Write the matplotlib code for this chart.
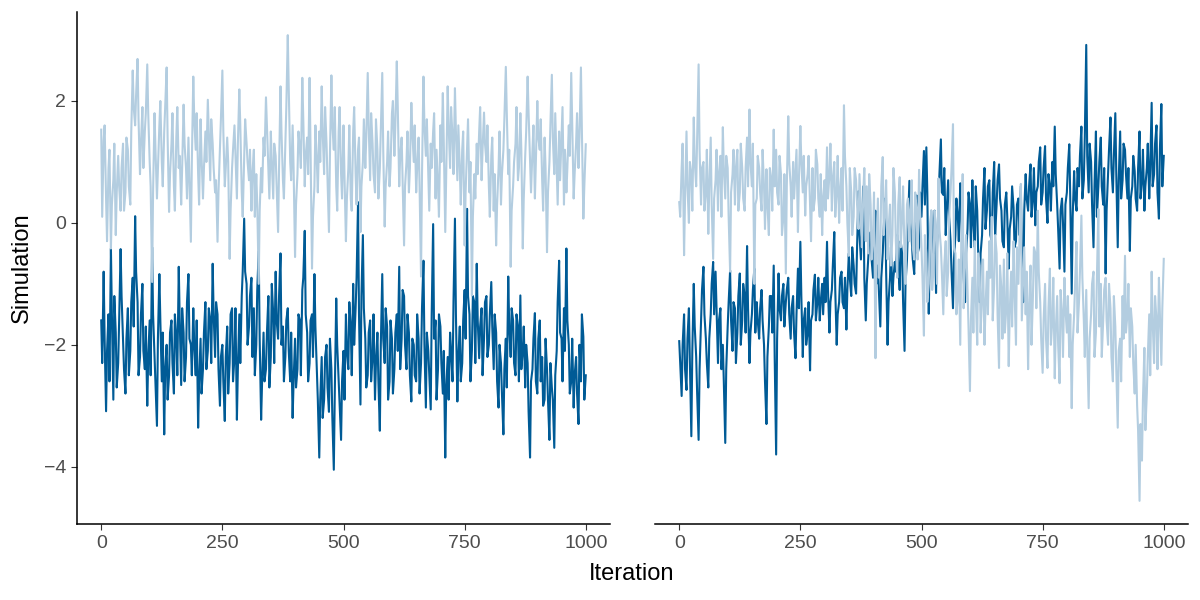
import matplotlib
matplotlib.use("Agg")
import matplotlib.pyplot as plt
import numpy as np

# iterations: main samples every 5 steps, plus in-between samples at 2, 7, 12, ...
iterations = list(range(0, 1001, 5))
iterations_mid = list(range(2, 1000, 5))

# left panel, light chain
left_light = [1.53, 1.35, 0.4, 0.9, -0.42, 0.7, -0.2, 1.1, 0.2, 1.3,
              0.5, 1.2, 0.3, 2.5, 1.6, 2.69, 0.8, 1.9, 1.5, 2.6,
              1.0, -0.97, 1.8, 0.4, 1.6, 1.0, 1.5, 2.55, 0.18, 1.3,
              0.6, 1.4, 0.9, 0.3, 1.94, 0.9, 1.4, -0.31, 2.4, 1.2,
              0.8, 1.7, 0.4, 1.5, 2.02, 0.7, 1.3, 0.5, -0.31, 1.2,
              2.5, 0.6, 1.4, -0.59, 0.9, 1.6, 0.4, 2.19, 0.5, 1.1,
              1.3, 0.7, 0.2, 1.2, 0.8, -1.0, 0.9, 1.4, 2.06, 0.9,
              1.5, 0.4, 1.1, -0.15, 2.24, 0.7, 1.3, 3.08, 1.0, 1.6,
              -0.56, 0.8, 1.2, 2.38, 0.6, 1.4, 2.38, -0.75, 0.6, 1.0,
              1.5, 2.24, 0.8, 1.3, -0.15, 2.42, 1.2, 0.6, 1.5, 0.8,
              1.6, -0.3, 0.9, 0.4, 1.5, 0.8, 1.2, -0.15, 1.0, 0.9,
              2.46, 0.7, 1.3, 0.5, 1.2, 0.9, 2.46, -0.06, 1.0, 0.6,
              1.8, 1.1, 2.65, 0.6, 1.4, -0.37, 1.0, 0.5, 1.97, 1.0,
              0.5, 1.4, -0.88, 2.4, 1.1, 0.8, 1.3, 1.5, 0.4, 0.6,
              1.6, 2.13, -0.15, 2.24, 0.9, 1.4, 2.21, 0.7, 0.9, 1.2,
              -0.37, 1.2, 0.5, -1.19, 0.8, 1.3, 1.5, 0.7, 1.81, 1.0,
              0.6, 1.1, 0.2, -0.37, 0.9, 0.3, 1.2, 2.56, 0.8, -0.72,
              0.6, 1.3, 0.7, 1.8, -0.42, 1.1, 2.4, 1.0, 1.2, 0.4,
              2.0, 1.2, 0.7, 1.4, -0.48, 1.0, 2.43, 0.8, 0.9, 1.5,
              1.4, 0.3, 0.5, 1.6, 2.46, 0.4, 1.3, 0.9, 2.55, 0.07,
              1.29]
left_light_mid = [0.1, 1.6, -0.3, 1.2, 0.3, 1.3, 0.5, 0.6, 0.9, 0.2,
                  1.4, 0.6, 1.5, 1.9, 2.1, 1.7, 1.3, 0.9, 1.8, 1.8,
                  0.6, 0.5, 1.2, 0.9, 2.0, 0.6, 1.9, 1.4, 0.8, 1.8,
                  0.2, 1.9, 1.1, 0.9, 1.3, 0.4, 0.7, 1.0, 1.7, 1.8,
                  0.3, 1.1, 0.9, 1.0, 1.5, 1.7, 0.9, 0.7, 0.5, 1.7,
                  1.5, 0.9, 1.0, 0.2, 1.2, 1.1, 1.3, 1.6, 0.1, 1.7,
                  1.0, 1.2, 0.8, 0.1, 0.3, 0.2, 0.5, 1.1, 1.6, 0.4,
                  1.0, 1.3, 0.6, 0.9, 1.5, 0.4, 1.9, 2.2, 0.7, 0.9,
                  0.3, 1.5, 0.9, 1.7, 1.1, 0.8, 1.2, 0.1, 1.6, 0.5,
                  1.0, 1.5, 1.9, 0.7, 1.1, 1.6, 1.9, 0.2, 1.9, 0.4,
                  0.8, 0.4, 1.6, 0.2, 1.9, 0.3, 1.4, 0.6, 1.7, 1.4,
                  1.6, 1.8, 0.8, 1.7, 0.4, 1.5, 1.2, 0.6, 1.5, 0.9,
                  2.0, 1.6, 1.9, 1.1, 0.7, 0.6, 1.5, 0.9, 1.5, 1.6,
                  0.9, 0.6, 0.8, 1.6, 1.7, 0.2, 0.9, 1.8, 1.2, 0.1,
                  1.0, 1.3, 0.8, 1.6, 1.9, 0.8, 1.5, 1.6, 0.3, 1.5,
                  0.5, 1.7, 1.0, 0.1, 0.4, 0.8, 1.9, 1.2, 1.3, 1.6,
                  0.1, 1.4, 0.8, 0.3, 1.5, 0.8, 1.7, 1.8, 1.2, 0.2,
                  1.0, 1.9, 0.9, 1.2, 0.4, 1.5, 1.8, 0.5, 1.6, 1.0,
                  1.4, 1.7, 0.2, 0.9, 0.5, 1.6, 1.4, 1.8, 0.3, 0.7,
                  1.9, 1.2, 0.9, 1.1, 1.6, 0.8, 1.8, 1.4, 1.5, 0.6]

# left panel, dark chain
left_dark = [-1.6, -0.8, -3.09, -1.5, -0.42, -2.9, -1.8, -2.3, -0.43, -1.9,
             -2.8, -1.4, -2.1, -0.9, 0.11, -1.3, -2.2, -1.0, -2.4, -3.0,
             -1.6, -0.4, -2.2, -3.33, -0.84, -2.6, -3.47, -2.0, -2.5, -1.6,
             -2.8, -1.9, -0.72, -2.66, -1.8, -2.2, -0.84, -2.0, -1.4, -2.5,
             -3.36, -1.9, -2.4, -1.3, -2.1, -1.6, -0.67, -2.2, -1.5, -3.0,
             -2.0, -3.25, -1.7, -2.3, -1.4, -2.2, -3.23, -1.5, -1.2, 0.07,
             -1.0, -1.7, -0.9, -1.4, -2.0, -0.46, -3.23, -1.8, -2.4, -1.2,
             -2.2, -1.5, -0.8, -1.9, -0.5, -1.7, -2.2, -1.4, -2.6, -3.2,
             -1.9, -2.4, -1.6, -1.1, -0.13, -1.8, -2.3, -1.5, -0.84, -2.4,
             -3.85, -2.2, -2.9, -2.0, -3.1, -2.4, -4.05, -1.24, -2.6, -3.56,
             -2.1, -1.5, -2.4, -1.7, -1.0, -1.4, 0.34, -2.98, -0.2, -1.9,
             -2.5, -1.6, -2.2, -2.9, -1.8, -3.41, -0.84, -2.3, -1.7, -2.6,
             -1.9, -2.4, -1.5, -0.72, -1.9, -1.2, -2.4, -1.8, -2.93, -2.0,
             -2.6, -1.9, -2.3, -0.62, -3.03, -2.1, -3.06, -0.02, -1.6, -2.4,
             -1.7, -2.8, -3.85, -2.2, -1.8, -2.6, 0.07, -2.93, -1.7, -2.3,
             -1.1, 0.23, -1.5, -2.09, -1.3, -0.67, -2.22, -1.4, -1.9, -1.2,
             -2.0, -0.97, -2.4, -1.8, -3.03, -2.3, -3.47, -1.9, -0.88, -2.2,
             -1.6, -2.5, -1.7, -1.19, -2.1, -2.7, -2.3, -3.85, -2.4, -1.48,
             -2.8, -1.6, -2.2, -2.9, -2.4, -3.56, -2.7, -3.69, -2.1, -0.62,
             -1.9, -1.4, -0.42, -2.0, -2.6, -3.03, -2.2, -3.3, -2.6, -1.87,
             -2.5]
left_dark_mid = [-2.3, -1.9, -2.1, -2.6, -1.5, -1.2, -2.7, -1.6, -1.2, -2.4,
                 -1.9, -2.5, -1.3, -1.7, -0.8, -2.5, -1.5, -2.1, -1.7, -2.2,
                 -2.5, -1.5, -2.7, -1.9, -1.6, -1.8, -2.4, -2.9, -1.8, -2.3,
                 -1.5, -2.5, -1.6, -1.4, -2.6, -1.3, -1.9, -2.5, -2.0, -1.6,
                 -2.6, -2.8, -1.8, -2.4, -1.4, -2.3, -1.5, -1.3, -2.4, -2.2,
                 -2.6, -2.2, -2.8, -1.5, -2.6, -1.4, -2.4, -2.3, -0.8, -0.8,
                 -2.0, -1.2, -2.2, -2.5, -1.1, -1.9, -2.6, -2.6, -1.8, -2.7,
                 -1.0, -2.3, -1.6, -1.2, -2.0, -2.6, -1.6, -2.1, -1.8, -2.6,
                 -2.7, -1.5, -2.5, -0.9, -1.5, -2.6, -1.6, -2.2, -1.7, -2.9,
                 -2.9, -3.2, -2.2, -2.7, -1.9, -3.2, -2.8, -2.0, -3.0, -2.6,
                 -2.9, -2.1, -1.3, -2.5, -2.0, -0.9, -1.5, -1.2, -1.4, -2.7,
                 -1.8, -2.6, -1.5, -2.3, -2.6, -2.0, -1.9, -1.4, -2.9, -1.6,
                 -2.8, -1.8, -2.1, -2.4, -1.1, -2.0, -1.5, -2.5, -1.9, -2.5,
                 -1.5, -2.8, -1.4, -2.0, -1.8, -2.5, -1.5, -1.9, -2.9, -1.5,
                 -2.3, -2.1, -2.7, -2.9, -2.1, -1.3, -1.5, -2.2, -2.6, -1.6,
                 -1.9, -1.2, -2.6, -1.2, -2.3, -1.6, -1.7, -2.5, -1.3, -2.2,
                 -1.5, -1.7, -1.5, -2.6, -2.0, -2.8, -2.4, -2.7, -1.7, -1.4,
                 -2.3, -1.5, -2.6, -2.4, -1.7, -2.0, -3.1, -2.6, -1.9, -2.6,
                 -1.9, -2.6, -3.0, -1.9, -2.9, -2.3, -2.9, -2.5, -1.3, -1.8,
                 -2.6, -2.1, -1.6, -2.8, -1.9, -2.5, -2.8, -2.0, -1.5, -2.9]

# right panel, light chain
right_light = [0.34, 0.9, -0.53, 1.5, 0.0, 0.8, 1.73, 0.6, 2.6, 0.3,
               1.0, 0.5, -0.18, 1.4, -0.59, 0.7, 0.2, 1.1, 1.57, 0.4,
               0.9, -0.8, 0.8, 0.3, 1.2, 0.5, 0.9, 0.2, 1.4, 1.86,
               0.6, -1.0, 0.4, 0.9, 0.2, 0.6, 0.88, -0.2, 0.7, 1.53,
               1.2, 0.3, 0.8, 0.1, -0.83, 1.75, 0.6, 1.0, 0.88, -0.15,
               1.59, 0.5, 0.12, 0.8, 0.3, 0.9, 0.4, 0.96, 0.1, -0.2,
               0.7, 1.24, 0.8, 0.2, 1.0, 0.5, 0.0, 0.9, 1.93, 0.6,
               -0.54, 0.5, 0.1, 0.7, -0.1, 0.2, 0.5, -0.3, -0.5, 0.3,
               -0.2, -2.22, 0.4, -0.4, 1.08, 0.2, -0.6, 0.3, -0.2, 0.5,
               -0.9, 0.75, 0.1, -0.5, 0.3, -0.3, 0.7, -0.6, 0.2, 0.87,
               -0.4, -1.85, -0.5, -1.0, 0.2, -0.7, -0.2, 0.73, -0.4, -1.5,
               -0.3, -0.8, 0.5, 1.62, -0.5, -1.2, -2.0, 0.8, -0.6, -1.1,
               -2.76, -0.9, -0.3, -2.0, -0.7, -1.2, -2.0, -0.8, -0.3, 0.1,
               -1.0, -0.5, -2.38, -1.1, -0.6, -1.4, -2.35, -0.8, -0.3, -2.0,
               -1.0, 0.64, -0.9, -1.5, -2.4, -0.7, -1.2, -0.5, 0.2, -1.3,
               -2.46, -1.0, -2.38, -0.75, -1.6, -2.55, -1.2, -2.63, -1.5, -0.9,
               -1.8, -2.2, -3.04, -1.5, -0.31, -1.3, 0.12, -1.6, -1.1, -3.04,
               -1.5, -0.8, -1.8, 0.23, -1.0, -1.6, -0.9, -2.0, -1.4, -2.6,
               -1.7, -3.36, -1.9, -1.2, -0.54, -1.5, -2.2, -1.7, -2.8, -3.0,
               -4.56, -3.9, -2.05, -2.8, -1.5, -0.8, -2.3, -1.6, -0.9, -2.33,
               -0.59]
right_light_mid = [0.1, 1.3, 0.4, 0.6, 1.0, 0.2, 1.0, 1.4, 1.2, 0.9,
                   0.2, 1.2, 0.6, 0.3, 0.4, 1.2, 0.8, 0.1, 0.9, 1.1,
                   0.1, 0.5, 1.2, 0.9, 0.2, 1.3, 0.4, 0.9, 0.6, 1.0,
                   1.3, 0.3, 1.1, 0.5, 1.2, -0.1, 0.3, 0.9, 0.2, 0.6,
                   0.5, 1.1, -0.2, 0.8, 0.6, 1.0, 0.1, 0.4, 1.2, 0.7,
                   1.0, 1.1, 0.6, 1.1, -0.3, 0.2, 1.2, 0.4, 0.8, 0.4,
                   0.2, 0.4, 1.3, 0.7, 0.1, 1.1, 0.5, 0.2, 1.1, 0.0,
                   0.9, -0.2, 0.9, 0.3, 0.8, -0.4, 0.9, 0.6, 0.8, -0.6,
                   0.5, -0.5, -0.9, 0.6, -0.2, 0.7, -0.1, -0.7, 0.9, -0.3,
                   0.3, -0.4, 0.6, -1.0, 0.4, 0.2, -0.4, 0.5, -0.6, 0.2,
                   -0.9, -0.2, -1.3, -0.3, -1.1, 0.2, -1.0, -0.1, -0.8, -0.7,
                   -1.2, 0.1, 0.9, -0.4, -1.5, -0.6, -0.3, -1.4, -0.2, -1.7,
                   -1.6, -1.8, -1.2, -0.5, -1.8, -0.6, -1.4, -1.5, -0.9, -1.6,
                   -0.2, -1.5, -0.7, -1.9, -1.8, -0.5, -1.5, -1.7, -1.1, -0.4,
                   -0.3, -1.6, -0.4, -0.8, -1.4, -2.0, -0.4, -1.4, -0.8, -1.9,
                   -1.6, -1.9, -1.4, -2.0, -0.9, -1.8, -2.0, -1.1, -2.2, -1.4,
                   -1.2, -1.5, -2.0, -1.0, -1.8, -0.8, -0.9, -2.2, -2.0, -1.9,
                   -1.0, -2.2, -0.9, -1.7, -2.2, -1.1, -1.6, -1.0, -2.2, -1.2,
                   -2.4, -2.1, -2.6, -1.9, -1.8, -1.0, -1.4, -2.3, -2.0, -3.4,
                   -3.3, -2.9, -3.4, -2.2, -2.5, -1.6, -1.2, -2.4, -1.5, -1.4]

# right panel, dark chain
right_dark = [-1.94, -2.84, -1.5, -2.74, -1.4, -3.5, -1.0, -2.2, -3.56, -1.6,
              -0.72, -1.9, -2.7, -1.5, -0.64, -0.8, -2.3, -1.4, -2.0, -3.61,
              -1.7, -0.78, -2.1, -1.4, -1.8, -0.83, -1.6, -1.2, -0.38, -2.3,
              -1.5, -0.75, -1.3, -1.9, -1.1, -2.0, -3.3, -1.7, -1.2, -0.7,
              -3.8, -0.83, -1.6, -1.0, -1.3, -0.9, -1.9, -1.2, -2.22, -0.75,
              -0.31, -2.2, -1.4, -1.8, -2.42, -1.5, -0.85, -1.3, -1.6, -1.0,
              -0.9, -0.31, -1.8, -1.1, -0.15, -2.0, -1.3, -0.8, -1.4, -1.75,
              -0.5, -1.2, -0.7, -1.16, 0.52, -0.6, 0.6, -1.6, -0.6, -0.15,
              -0.9, 0.2, -0.7, -1.7, -0.5, 0.4, -2.0, -0.9, -1.2, -0.64,
              -0.2, -1.1, -0.5, -2.1, -0.6, 0.69, -0.3, -0.84, 0.45, -0.4,
              0.1, 1.18, 1.24, -1.49, 0.2, -0.5, -1.15, 0.3, 1.37, 0.46,
              -0.2, 0.7, -0.3, -1.4, -0.2, 0.1, 0.65, -0.5, -1.3, -0.1,
              0.3, 0.7, -0.4, 0.2, -1.3, -0.2, 0.9, 0.2, 0.7, -0.3,
              1.0, 0.3, 0.96, 0.2, -0.4, 0.5, -0.75, 0.1, 0.25, -0.3,
              0.4, 0.6, -1.3, 0.8, 0.2, 0.96, 0.4, -0.04, 0.6, 1.24,
              0.5, 1.26, 0.0, 0.6, 1.0, 1.58, 0.3, -0.75, 0.4, -0.8,
              0.5, 1.29, -1.16, 0.85, 0.2, 0.6, 1.58, 0.7, 2.92, 0.5,
              1.0, -0.4, 1.5, 0.6, 1.4, 0.3, -0.83, 0.8, 1.73, 0.5,
              1.8, -0.4, 1.5, 0.7, 1.2, 0.4, -0.46, 0.6, 0.85, 0.2,
              1.5, 0.7, 0.2, 0.9, 0.4, 1.97, 0.8, 1.6, 0.07, 1.95,
              1.1]
right_dark_mid = [-2.3, -2.0, -2.4, -1.9, -2.3, -2.1, -1.7, -2.8, -2.4, -1.1,
                  -1.5, -2.3, -1.9, -1.0, -1.5, -1.4, -1.6, -2.4, -2.6, -2.4,
                  -1.3, -1.6, -1.3, -2.3, -1.2, -2.0, -1.0, -1.8, -1.4, -1.8,
                  -1.1, -1.8, -1.6, -1.4, -1.6, -2.6, -2.2, -1.2, -1.8, -2.2,
                  -1.9, -1.4, -1.2, -1.7, -1.1, -1.5, -1.4, -1.8, -1.5, -1.4,
                  -1.2, -1.6, -2.0, -1.3, -1.6, -1.1, -1.6, -0.9, -1.3, -1.5,
                  -1.3, -1.1, -1.3, -0.7, -1.1, -1.5, -0.9, -1.3, -0.9, -1.1,
                  -0.9, -0.4, -1.0, -0.4, -0.2, -0.1, -0.9, -1.0, -0.3, -0.6,
                  -0.4, -1.0, -1.1, -0.9, -0.1, -0.8, -1.3, -0.4, -0.9, -0.8,
                  -0.7, -0.3, -1.3, -1.0, -0.1, 0.0, -0.6, -0.1, -0.5, 0.5,
                  0.6, 0.3, 0.5, -0.5, -0.4, 0.2, -0.4, 0.8, 0.5, 0.9,
                  0.2, 0.1, -0.8, -0.6, 0.4, -0.3, 0.1, -0.9, -0.5, 0.5,
                  -0.4, 0.0, 0.6, -0.5, -0.5, 0.4, -0.1, 0.6, -0.2, 0.5,
                  -0.2, 0.7, 0.4, -0.3, 0.3, 0.1, -0.1, 0.6, -0.4, 0.3,
                  -0.2, -0.4, 0.2, 0.4, 0.6, 0.1, 0.9, 0.5, 1.0, 0.3,
                  0.9, 0.4, 0.8, 0.2, 0.6, 0.8, -0.1, 0.2, 0.0, 0.3,
                  0.9, 0.4, 0.1, 0.4, 0.9, 1.1, 0.4, 1.4, 1.1, 1.3,
                  0.3, 0.6, 0.1, 1.0, 0.6, 0.9, 0.2, 1.2, 0.9, 1.1,
                  0.8, 0.7, 0.4, 1.3, 0.8, 0.9, 0.4, 1.1, 0.4, 0.9,
                  0.4, 1.2, 0.6, 1.3, 0.9, 0.6, 1.3, 0.5, 1.2, 0.6]

x_ticks = [0, 250, 500, 750, 1000]
y_ticks = [-4, -2, 0, 2]
x_label = "Iteration"
y_label = "Simulation"

light_color = "#b3cde0"
dark_color = "#005b96"

plt.rcParams['font.family'] = ['Liberation Sans', 'DejaVu Sans']


def merged(main, mid):
    x = np.array(iterations + iterations_mid, dtype=float)
    y = np.array(list(main) + list(mid), dtype=float)
    order = np.argsort(x, kind="stable")
    return x[order], y[order]


fig = plt.figure(figsize=(12, 6), dpi=100)
ax1 = fig.add_axes([77/1200, 1 - 524/600, 533/1200, 512/600])
ax2 = fig.add_axes([655/1200, 1 - 524/600, 533/1200, 512/600])

panels = [(ax1, left_light, left_light_mid, left_dark, left_dark_mid),
          (ax2, right_light, right_light_mid, right_dark, right_dark_mid)]

for ax, light, light_mid, dark, dark_mid in panels:
    xd, yd = merged(dark, dark_mid)
    xl, yl = merged(light, light_mid)
    ax.plot(xd, yd, color=dark_color, lw=1.5, solid_joinstyle='round')
    ax.plot(xl, yl, color=light_color, lw=1.5, solid_joinstyle='round')
    ax.set_xlim(-50, 1050)
    ax.set_ylim(-4.94, 3.46)
    ax.set_xticks(x_ticks)
    ax.set_xticklabels([str(t) for t in x_ticks])
    for s in ['top', 'right']:
        ax.spines[s].set_visible(False)
    ax.spines['bottom'].set_linewidth(1.1)
    ax.spines['bottom'].set_color('black')
    ax.tick_params(axis='x', length=4, width=0.8, color='#333333',
                   labelsize=14, labelcolor='#4d4d4d', pad=4)

ax1.set_yticks(y_ticks)
ax1.set_yticklabels(["\u22124", "\u22122", "0", "2"])
ax1.spines['left'].set_linewidth(1.1)
ax1.spines['left'].set_color('black')
ax1.tick_params(axis='y', length=4, width=0.8, color='#333333',
                labelsize=14, labelcolor='#4d4d4d', pad=4)

ax2.spines['left'].set_visible(False)
ax2.set_yticks([])

fig.text(632/1200, 1 - 574/600, x_label, ha='center', va='center', fontsize=17, color='black')
fig.text(22/1200, 1 - 268/600, y_label, ha='center', va='center', rotation=90, fontsize=17, color='black')

fig.savefig("out.png", dpi=100)
